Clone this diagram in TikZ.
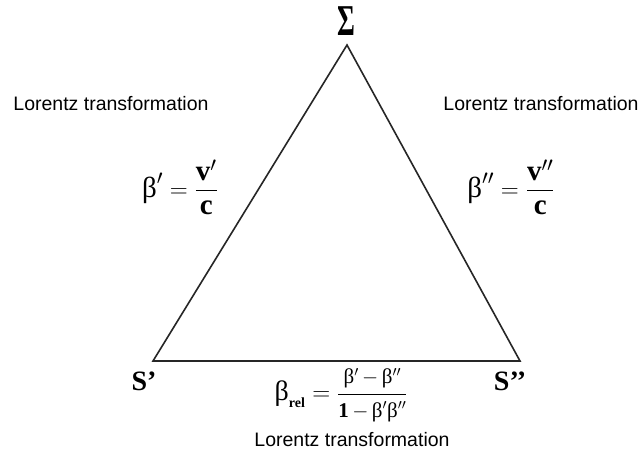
\documentclass[tikz,border=0pt]{standalone}
\usepackage{amsmath}
\usepackage{graphicx}
\usepackage{fontspec}
\setmainfont{Liberation Serif}
\setsansfont{Liberation Sans}
\tikzset{
  lbl/.style={font=\sffamily\fontsize{19.5}{22}\selectfont, inner sep=0pt},
  vtx/.style={font=\bfseries\fontsize{28}{30}\selectfont, inner sep=0pt},
  eqn/.style={font=\fontsize{29}{32}\selectfont, inner sep=0pt},
  beq/.style={font=\fontsize{28}{30}\selectfont, inner sep=0pt},
  side/.style={line width=1.6pt, draw=black!85}
}
\newcommand{\fs}{\fontsize{21}{23}\selectfont}
\begin{document}
\begin{tikzpicture}[x=1pt,y=-1pt]
\useasboundingbox (0,0) rectangle (642,462);
\fill[white] (0,0) rectangle (642,462);
\coordinate (A) at (347,45);
\coordinate (B) at (153,361);
\coordinate (C) at (520,361);
\draw[side, line join=miter] (A) -- (B) -- (C) -- cycle;
\node[vtx] (sig) at (346,21) {\scalebox{0.62}[1]{\fontsize{44}{46}\selectfont\bfseries Σ}};
\node[vtx] (sp) at (144,381) {S’};
\node[vtx] (spp) at (510,381) {S’’};
\node[lbl] (l1) at (111,104) {Lorentz transformation};
\node[lbl] (l2) at (541,104) {Lorentz transformation};
\node[lbl] (l3) at (352,440) {Lorentz transformation};
\node[eqn] (e1) at (180,187) {$\displaystyle \text{β}' = \frac{\textbf{v}'}{\textbf{c}}$};
\node[eqn] (e2) at (511,187) {$\displaystyle \text{β}'' = \frac{\textbf{v}''}{\textbf{c}}$};
\node[beq] (e3) at (341,395) {$\displaystyle \text{β}_{\text{\fontsize{14}{15}\selectfont\bfseries rel}} = \frac{\text{\fs β$'$\,$-$\,β$''$}}{\text{\fs\bfseries 1\,\mdseries$-$\,β$'$β$''$}}$};
\end{tikzpicture}
\end{document}
